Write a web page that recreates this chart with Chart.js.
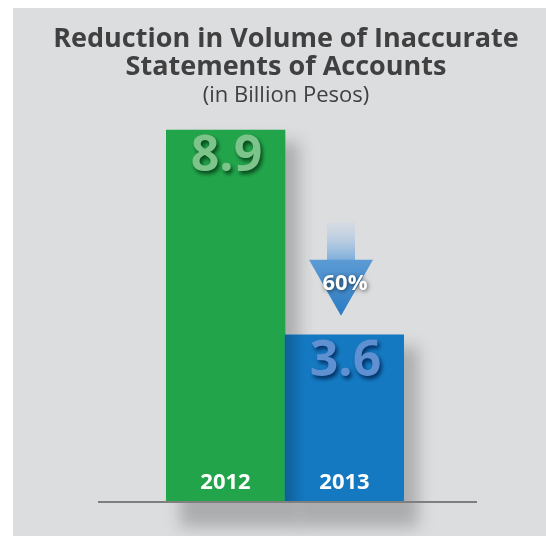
<!DOCTYPE html>
<html>
<head>
<meta charset="utf-8">
<script src="https://cdn.jsdelivr.net/npm/chart.js@4"></script>
<style>
  body { margin: 0; background: #ffffff; }
</style>
</head>
<body>
<canvas id="grafico" width="546" height="536"></canvas>
<script>
// dados
const anos = ['2012', '2013'];
const valores = [8.9, 3.6];
const reducao = '60%';
const titulo = ['Reduction in Volume of Inaccurate', 'Statements of Accounts'];
const subtitulo = '(in Billion Pesos)';

const corBarras = ['#22a54a', '#1479c1'];
const corValores = ['#7cc48a', '#5f90d2'];
const corSombraValores = ['rgba(0,50,15,0.85)', 'rgba(0,30,80,0.85)'];
const fonte = '"Open Sans", "Noto Sans", sans-serif';

const desenhos = {
    id: 'desenhos',
    beforeDraw(chart) {
        const ctx = chart.ctx
        ctx.save()
        ctx.fillStyle = '#ffffff'
        ctx.fillRect(0, 0, chart.width, chart.height)
        ctx.fillStyle = '#dcdddf'
        ctx.fillRect(13, 8, chart.width - 13, chart.height - 8)

        // titulo
        ctx.fillStyle = '#404041'
        ctx.textAlign = 'center'
        ctx.textBaseline = 'alphabetic'
        ctx.font = 'bold 27px ' + fonte
        ctx.fillText(titulo[0], 286, 47)
        ctx.fillText(titulo[1], 286, 75)
        ctx.font = '22px ' + fonte
        ctx.fillText(subtitulo, 286, 102)
        ctx.restore()
    },
    beforeDatasetsDraw(chart) {
        const ctx = chart.ctx
        const barras = chart.getDatasetMeta(0).data
        ctx.save()
        ctx.filter = 'blur(8px)'
        ctx.fillStyle = 'rgba(0,0,0,0.22)'
        barras.forEach(b => {
            const w = b.width
            ctx.fillRect(b.x - w / 2 + 14, b.y + 12, w, b.base - b.y + 14)
        })
        ctx.restore()
    },
    afterDatasetsDraw(chart) {
        const ctx = chart.ctx
        const barras = chart.getDatasetMeta(0).data
        const area = chart.chartArea
        ctx.save()

        // sombra da barra verde sobre a azul
        const b2 = barras[1]
        const esq = b2.x - b2.width / 2
        const g = ctx.createLinearGradient(esq, 0, esq + 20, 0)
        g.addColorStop(0, 'rgba(0,0,0,0.22)')
        g.addColorStop(1, 'rgba(0,0,0,0)')
        ctx.fillStyle = g
        ctx.fillRect(esq, Math.max(b2.y, barras[0].y + 14), 20, b2.base - Math.max(b2.y, barras[0].y + 14))

        // linha base
        ctx.strokeStyle = '#7f7f7f'
        ctx.lineWidth = 2
        ctx.beginPath()
        ctx.moveTo(98, area.bottom + 1)
        ctx.lineTo(477, area.bottom + 1)
        ctx.stroke()

        // seta
        const cx = b2.x - 3.5
        const ponta = b2.y - 19
        const baseSeta = ponta - 56
        const topoHaste = baseSeta - 38
        const gh = ctx.createLinearGradient(0, topoHaste, 0, baseSeta)
        gh.addColorStop(0, 'rgba(200,215,232,0.3)')
        gh.addColorStop(1, '#7eaedb')
        ctx.fillStyle = gh
        ctx.fillRect(cx - 14, topoHaste, 28, baseSeta - topoHaste + 1)
        const gc = ctx.createLinearGradient(0, baseSeta, 0, ponta)
        gc.addColorStop(0, '#5c9bd4')
        gc.addColorStop(1, '#2a7bc2')
        ctx.fillStyle = gc
        ctx.beginPath()
        ctx.moveTo(cx - 32, baseSeta)
        ctx.lineTo(cx + 32, baseSeta)
        ctx.lineTo(cx, ponta)
        ctx.closePath()
        ctx.fill()

        ctx.textAlign = 'center'
        ctx.textBaseline = 'middle'
        ctx.font = 'bold 22px ' + fonte
        ctx.shadowColor = 'rgba(0,0,0,0.6)'
        ctx.shadowBlur = 4
        ctx.shadowOffsetX = 1
        ctx.shadowOffsetY = 1
        ctx.fillStyle = '#ffffff'
        ctx.fillText(reducao, cx + 4, baseSeta + 24)

        // valores e anos
        barras.forEach((b, i) => {
            ctx.font = 'bold 50px ' + fonte
            ctx.fillStyle = corValores[i]
            ctx.shadowColor = corSombraValores[i]
            ctx.shadowBlur = 4
            ctx.shadowOffsetX = 2
            ctx.shadowOffsetY = 3
            ctx.fillText(valores[i].toFixed(1), b.x + 1, b.y + 27)

            ctx.shadowColor = 'transparent'
            ctx.font = 'bold 22px ' + fonte
            ctx.fillStyle = '#ffffff'
            ctx.fillText(anos[i], b.x, b.base - 18)
        })
        ctx.restore()
    }
}

new Chart(document.getElementById('grafico'), {
    type: 'bar',
    data: {
        labels: anos,
        datasets: [{
            label: 'Billion Pesos',
            data: valores,
            backgroundColor: corBarras,
            borderWidth: 0,
            base: -0.7,
            barPercentage: 1,
            categoryPercentage: 1
        }]
    },
    options: {
        responsive: false,
        animation: false,
        layout: {
            padding: { left: 166, right: 142, top: 120, bottom: 35 }
        },
        plugins: {
            legend: { display: false },
            tooltip: { enabled: false }
        },
        scales: {
            x: { display: false },
            y: { display: false, min: -0.7, max: 9.16 }
        }
    },
    plugins: [desenhos]
});
</script>
</body>
</html>
